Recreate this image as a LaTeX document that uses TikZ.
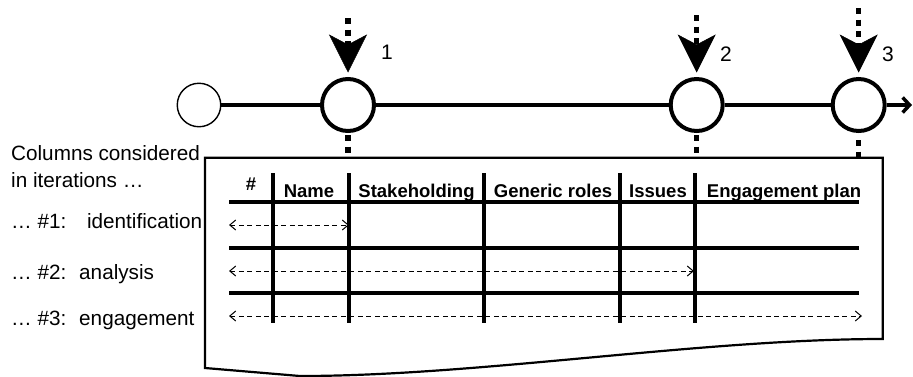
\documentclass[tikz,border=0pt]{standalone}
\usepackage{fontspec}
\setmainfont{Liberation Sans}
\usetikzlibrary{arrows.meta}
\begin{document}
\begin{tikzpicture}[x=1pt,y=-1pt,
  milestone/.style={circle,draw,line width=4pt,minimum size=52pt,inner sep=0pt,fill=white},
  startnode/.style={circle,draw,line width=1.4pt,minimum size=43.5pt,inner sep=0pt,fill=white},
  mainline/.style={line width=4.2pt},
  dotline/.style={line width=5.5pt,dash pattern=on 6pt off 5.5pt},
  bigtip/.style={-{Stealth[length=38pt,width=38pt,inset=10pt,line width=0.5pt]}},
  hdr/.style={font=\fontsize{18.5}{20}\selectfont\bfseries,anchor=base},
  lbl/.style={font=\fontsize{20.7}{24}\selectfont,anchor=base west,inner sep=0pt},
  num/.style={font=\fontsize{21}{24}\selectfont,inner sep=0pt},
  gridline/.style={line width=3.3pt},
  boxline/.style={line width=2.2pt,fill=white},
  iterarrow/.style={line width=1pt,dash pattern=on 5pt off 3.5pt,
    {Straight Barb[length=6pt,width=10pt,line width=1pt]}-{Straight Barb[length=6pt,width=10pt,line width=1pt]}}]
\useasboundingbox (0,0) rectangle (913,376);

% document box
\draw[boxline] (205,157.7) -- (882.7,157.7) -- (882.7,339)
  .. controls (700,339) and (480,376) .. (300,376) -- (205,368) -- cycle;

% timeline nodes
\node[startnode] (s) at (199,105) {};
\node[milestone] (c1) at (348,105) {};
\node[milestone] (c2) at (696.7,105) {};
\node[milestone] (c3) at (858.7,105) {};
\coordinate (end) at (912,105);

\draw[mainline] (s) -- (c1);
\draw[mainline] (c1) -- (c2);
\draw[mainline] (c2) -- (c3);
\draw[mainline,-{Straight Barb[length=7pt,width=15pt,line width=3.5pt]}] (c3) -- (end);

% dotted arrows into milestones
\coordinate (t1) at (348,18);
\coordinate (t2) at (696.7,15);
\coordinate (t3) at (858.7,8);
\draw[dotline,bigtip,shorten >=4.5pt] (t1) -- (c1.north);
\draw[dotline,bigtip,shorten >=4.5pt] (t2) -- (c2.north);
\draw[dotline,bigtip,shorten >=4.5pt] (t3) -- (c3.north);
\node[num] (n1) at (387,52) {1};
\node[num] (n2) at (726,54) {2};
\node[num] (n3) at (888,54) {3};

% dotted lines below milestones
\coordinate (b1) at (348,157);
\coordinate (b2) at (696.7,154);
\coordinate (b3) at (858.7,161);
\draw[dotline,shorten <=2pt] (c1.south) -- (b1);
\draw[dotline,shorten <=2pt] (c2.south) -- (b2);
\draw[dotline,shorten <=7pt] (c3.south) -- (b3);

% table grid
\foreach \y/\nm in {202/h0,248/h1,293/h2}{
  \coordinate (\nm a) at (229,\y);
  \coordinate (\nm b) at (859,\y);
  \draw[gridline] (\nm a) -- (\nm b);
}
\foreach \x/\nm in {273/v1,349/v2,484/v3,620/v4,695/v5}{
  \coordinate (\nm a) at (\x,173);
  \coordinate (\nm b) at (\x,323);
  \draw[gridline] (\nm a) -- (\nm b);
}

% headers
\node[hdr] (hnum) at (251,190) {\#};
\node[hdr] (hname) at (309,197) {Name};
\node[hdr] (hstake) at (416.5,197) {Stakeholding};
\node[hdr] (hgen) at (553,197) {Generic roles};
\node[hdr] (hiss) at (658,197) {Issues};
\node[hdr] (heng) at (784,197) {Engagement plan};

% iteration arrows
\coordinate (r1a) at (229,225);
\coordinate (r1b) at (349,225);
\coordinate (r2a) at (229,271);
\coordinate (r2b) at (694,271);
\coordinate (r3a) at (229,316);
\coordinate (r3b) at (862,316);
\draw[iterarrow] (r1a) -- (r1b);
\draw[iterarrow] (r2a) -- (r2b);
\draw[iterarrow] (r3a) -- (r3b);

% left labels
\node[lbl] (l0) at (11,160) {Columns considered};
\node[lbl] (l1) at (11,187) {in iterations …};
\node[lbl] (l2) at (11,228) {… \#1:\hspace{1em}identification};
\node[lbl] (l3) at (11,279) {… \#2:\hspace{0.62em}analysis};
\node[lbl] (l4) at (11,325) {… \#3:\hspace{0.62em}engagement};
\end{tikzpicture}
\end{document}
